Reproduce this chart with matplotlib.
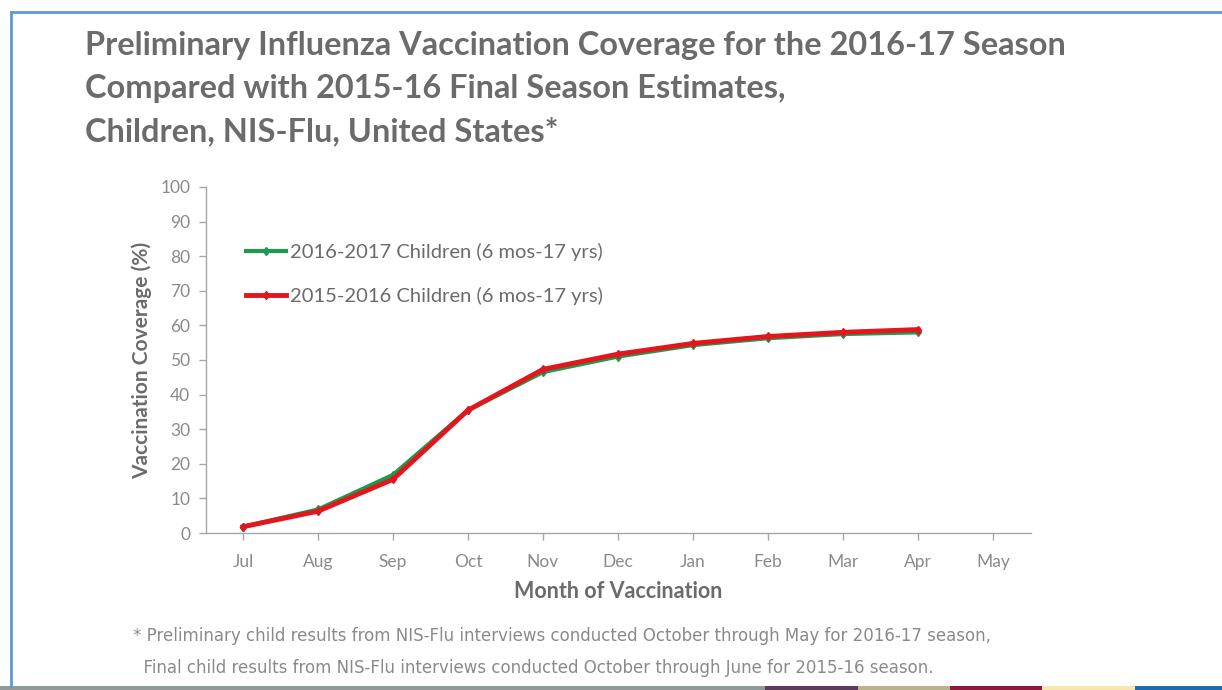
import matplotlib
matplotlib.use("Agg")
from matplotlib import pyplot as plt
from matplotlib.lines import Line2D
from matplotlib.patches import Rectangle

months = ["Jul", "Aug", "Sep", "Oct", "Nov", "Dec", "Jan", "Feb", "Mar", "Apr", "May"]
children_2016_17 = [1.8, 6.8, 16.8, 35.5, 46.5, 51.0, 54.3, 56.3, 57.5, 58.0]
children_2015_16 = [1.8, 6.3, 15.5, 35.5, 47.3, 51.7, 54.8, 56.8, 58.0, 58.8]
yticks = list(range(0, 101, 10))

title_lines = ["Preliminary Influenza Vaccination Coverage for the 2016-17 Season",
               "Compared with 2015-16 Final Season Estimates,",
               "Children, NIS-Flu, United States*"]
footnote_lines = ["* Preliminary child results from NIS-Flu interviews conducted October through May for 2016-17 season,",
                  "  Final child results from NIS-Flu interviews conducted October through June for 2015-16 season."]

gray_text = "#6b6b6b"
tick_gray = "#8a8a8a"

fig = plt.figure(figsize=(12.22, 6.9), dpi=100)
fig.patch.set_facecolor("white")

# frame lines along top and left
fig.add_artist(Line2D([11/1222, 1], [1 - 12/690, 1 - 12/690], color="#5b9bd5", lw=2))
fig.add_artist(Line2D([11/1222, 11/1222], [1 - 12/690, 4/690], color="#5b9bd5", lw=2))

# coloured strip at the bottom
strip = [(0, 765, "#8f9a98"), (765, 858, "#5a3d5c"), (858, 950, "#b9b38f"),
         (950, 1042, "#8c1a3c"), (1042, 1135, "#f6e7ae"), (1135, 1222, "#1f6aae")]
for x0, x1, c in strip:
    fig.add_artist(Rectangle((x0/1222, 0), (x1 - x0)/1222, 4/690, color=c, lw=0))

# title
for i, line in enumerate(title_lines):
    fig.text(85/1222, 1 - (46 + 42.5*i)/690, line, fontsize=23.4, fontweight="bold",
             family="Lato", color=gray_text, va="center", ha="left")

ax = fig.add_axes([205.5/1222, 157/690, 825/1222, 346/690])
x = list(range(len(months)))
ax.plot(x[:len(children_2016_17)], children_2016_17, color="#1e9a50", lw=3,
        marker="d", ms=4.5, label="2016-2017 Children (6 mos-17 yrs)")
ax.plot(x[:len(children_2015_16)], children_2015_16, color="#e3161d", lw=3.5,
        marker="d", ms=4.5, label="2015-2016 Children (6 mos-17 yrs)")

ax.set_xlim(-0.5, len(months) - 0.5)
ax.set_ylim(0, 100)
ax.set_xticks(x)
ax.set_xticklabels(months, family="Lato", fontsize=12.5, color=tick_gray)
ax.set_yticks(yticks)
ax.set_yticklabels([str(t) for t in yticks], family="Lato", fontsize=12.5, color=tick_gray)
for s in ["top", "right"]:
    ax.spines[s].set_visible(False)
for s in ["left", "bottom"]:
    ax.spines[s].set_color("#a6a6a6")
    ax.spines[s].set_linewidth(1)
ax.tick_params(axis="both", colors="#a6a6a6", length=5, width=1, labelcolor=tick_gray)
ax.tick_params(axis="x", pad=10)
ax.tick_params(axis="y", pad=6)

ax.set_xlabel("Month of Vaccination", family="Lato", fontweight="bold",
              fontsize=15.5, color=gray_text, labelpad=8)
ax.set_ylabel("Vaccination Coverage (%)", family="Lato", fontweight="bold",
              fontsize=15, color=gray_text, labelpad=6)

leg = ax.legend(loc="upper left", bbox_to_anchor=(0.027, 0.89), frameon=False,
                handlelength=2.0, handletextpad=0.2, labelspacing=1.3,
                prop={"family": "Lato", "size": 14.5})
for t in leg.get_texts():
    t.set_color(gray_text)

for i, line in enumerate(footnote_lines):
    fig.text(133/1222, 1 - (636 + 32*i)/690, line, fontsize=12,
             family=["Liberation Sans Narrow", "DejaVu Sans"], color="#8a8a8a",
             va="center", ha="left")

fig.savefig("out.png", dpi=100)
